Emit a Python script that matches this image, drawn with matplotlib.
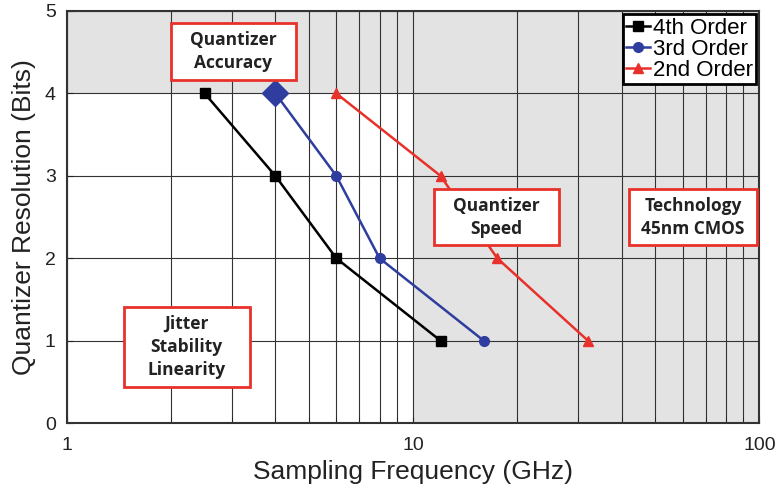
import matplotlib.pyplot as plt
from matplotlib.patches import Rectangle
from matplotlib.ticker import LogLocator, FixedLocator, NullFormatter

# sampling frequency (GHz) vs quantizer bits for each loop order
bits = [4, 3, 2, 1]
freq_4th = [2.5, 4, 6, 12]
freq_3rd = [4, 6, 8, 16]
freq_2nd = [6, 12, 17.5, 32]

plt.rcParams["font.family"] = ["Liberation Sans", "DejaVu Sans"]

fig = plt.figure(figsize=(7.78, 4.99), dpi=100)
ax = fig.add_axes([0.086, 0.152, 0.89, 0.826])

ax.set_xscale("log")
ax.set_xlim(1, 100)
ax.set_ylim(0, 5)

# shaded limits: top band above 4 bits and everything above 10 GHz
shade = "#e3e3e3"
ax.axhspan(4, 5, color=shade, zorder=0, lw=0)
ax.axvspan(10, 100, color=shade, zorder=0, lw=0)

ax.xaxis.set_major_locator(LogLocator(base=10))
ax.xaxis.set_minor_locator(LogLocator(base=10, subs=range(2, 10)))
ax.xaxis.set_minor_formatter(NullFormatter())
ax.yaxis.set_major_locator(FixedLocator(range(0, 6)))
ax.set_xticks([1, 10, 100])
ax.set_xticklabels(["1", "10", "100"])

ax.grid(which="major", color="#333333", lw=0.8, zorder=1)
ax.grid(which="minor", axis="x", color="#333333", lw=0.8, zorder=1)
ax.tick_params(which="both", direction="in", labelsize=14, colors="#222222", length=4)
ax.tick_params(axis="x", pad=10)
ax.tick_params(axis="y", pad=8)
for s in ax.spines.values():
    s.set_linewidth(1.5)
    s.set_color("#333333")

ax.plot(freq_4th, bits, "-s", color="black", lw=1.8, ms=7, label="4th Order", zorder=4)
ax.plot(freq_3rd, bits, "-o", color="#2e3d9e", lw=1.8, ms=7, label="3rd Order", zorder=4)
ax.plot(freq_3rd[:1], bits[:1], "D", color="#2e3d9e", ms=13, zorder=5)
ax.plot(freq_2nd, bits, "-^", color="#e8312a", lw=1.8, ms=7, label="2nd Order", zorder=4)

leg = ax.legend(loc="upper right", fontsize=16, frameon=True, fancybox=False,
                handlelength=1.1, handletextpad=0.1, borderpad=0.15,
                labelspacing=0.0, borderaxespad=0.15)
leg.get_frame().set_edgecolor("black")
leg.get_frame().set_linewidth(2)
leg.get_frame().set_facecolor("white")
leg.get_frame().set_alpha(1)
leg.set_zorder(7)

# annotation boxes, placed in axes fractions (x0, y0, x1, y1)
notes = [
    ("Quantizer\nAccuracy", (0.150, 0.833, 0.331, 0.971)),
    ("Quantizer\nSpeed", (0.530, 0.432, 0.711, 0.568)),
    ("Technology\n45nm CMOS", (0.812, 0.432, 0.996, 0.568)),
    ("Jitter\nStability\nLinearity", (0.082, 0.087, 0.264, 0.282)),
]
for label, (x0, y0, x1, y1) in notes:
    ax.add_patch(Rectangle((x0, y0), x1 - x0, y1 - y0, transform=ax.transAxes,
                           fc="white", ec="#e8312a", lw=2, zorder=6))
    ax.text((x0 + x1) / 2, (y0 + y1) / 2, label, transform=ax.transAxes,
            fontsize=12.5, fontweight="bold", family=["Open Sans", "DejaVu Sans"],
            ha="center", va="center", linespacing=1.35, zorder=7, color="#222222")

ax.set_xlabel("Sampling Frequency (GHz)", fontsize=19, color="#222222", labelpad=4)
ax.set_ylabel("Quantizer Resolution (Bits)", fontsize=19, color="#222222", labelpad=6)

fig.savefig("out.png", dpi=100)
